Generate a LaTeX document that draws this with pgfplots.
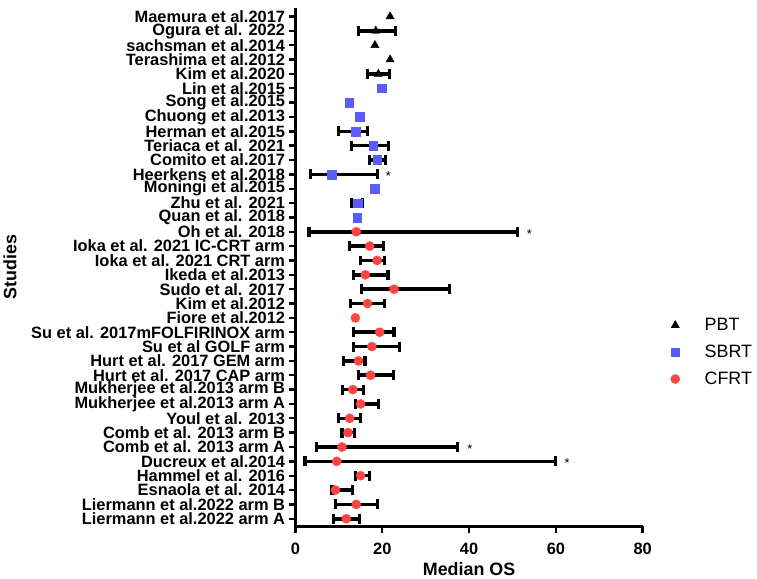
\documentclass[border=0pt]{standalone}
\usepackage{fontspec}
\setmainfont{Liberation Sans}
\usepackage{pgfplots}
\usepackage{pgfplotstable}
\pgfplotsset{compat=1.18}
\definecolor{sbrt}{RGB}{92,92,252}
\definecolor{cfrt}{RGB}{255,68,68}

% rows: y=36 is the top study, y=1 the bottom one
\pgfplotstableread{
y  os   lo   hi
35 18.5 14.6 23.0
32 19.1 16.5 21.7
28 13.8 10.0 16.6
27 17.9 12.9 21.4
26 18.8 17.1 20.8
25 8.4  3.5  18.9
23 14.3 12.9 15.5
21 14.0 3.1  51.2
20 17.1 12.5 20.3
19 18.8 15.0 20.6
18 16.1 13.3 21.3
17 22.7 15.2 35.4
16 16.6 12.7 20.6
14 19.4 13.3 22.7
13 17.6 13.3 23.9
12 14.5 11.0 16.0
11 17.3 14.5 22.6
10 13.2 10.9 15.7
9  15.0 13.8 19.1
8  12.5 10.0 15.0
7  12.1 10.7 13.6
6  10.7 4.9  37.4
5  9.5  2.2  60.0
4  15.0 13.8 17.1
3  9.2  8.4  13.1
2  14.0 9.2  18.9
1  11.7 8.8  14.7
}\bars

\pgfplotstableread{
y  os
36 21.8
35 18.5
34 18.3
33 21.8
32 19.1
}\pbt

\pgfplotstableread{
y  os
31 19.8
30 12.4
29 14.8
28 13.8
27 17.9
26 18.8
25 8.4
24 18.3
23 14.3
22 14.2
}\sbrt

\pgfplotstableread{
y  os
21 14.0
20 17.1
19 18.8
18 16.1
17 22.7
16 16.6
15 13.8
14 19.4
13 17.6
12 14.5
11 17.3
10 13.2
9  15.0
8  12.5
7  12.1
6  10.7
5  9.5
4  15.0
3  9.2
2  14.0
1  11.7
}\cfrt

\begin{document}
\begin{tikzpicture}
\begin{axis}[
    width=349.5pt, height=522pt, scale only axis,
    xmin=0, xmax=80, ymin=0.46, ymax=36.6,
    axis x line*=bottom, axis y line*=left,
    axis line style={line width=2.8pt, -},
    xtick={0,20,...,80},
    ytick={1,...,36},
    yticklabels={Liermann et al.2022 arm A, Liermann et al.2022 arm B, Esnaola et al. 2014,
      Hammel et al. 2016, Ducreux et al.2014, Comb et al. 2013 arm A, Comb et al. 2013 arm B,
      Youl et al. 2013, Mukherjee et al.2013 arm A, Mukherjee et al.2013 arm B,
      Hurt et al. 2017 CAP arm, Hurt et al. 2017 GEM arm, Su et al GOLF arm\ ,
      Su et al. 2017mFOLFIRINOX arm\ , Fiore et al.2012, Kim et al.2012, Sudo et al. 2017,
      Ikeda et al.2013, Ioka et al. 2021 CRT arm, Ioka et al. 2021 IC-CRT arm\ , Oh et al. 2018,
      Quan et al. 2018, Zhu et al. 2021, Moningi et al.2015, Heerkens et al.2018,
      Comito et al.2017, Teriaca et al. 2021, Herman et al.2015, Chuong et al.2013,
      Song et al.2015, Lin et al.2015, Kim et al.2020, Terashima et al.2012,
      sachsman et al.2014, Ogura et al. 2022, Maemura et al.2017},
    tick align=outside, major tick length=7pt,
    tick style={line width=2.4pt, black},
    /pgf/number format/assume math mode=true,
    ticklabel style={font=\fontsize{16.5}{16.5}\selectfont\bfseries},
    xticklabel style={yshift=-6pt},
    xlabel={Median OS}, ylabel={Studies},
    label style={font=\fontsize{18}{18}\selectfont\bfseries},
    xlabel style={yshift=-1pt},
    ylabel style={yshift=8pt},
    legend cell align=left,
    legend image code/.code={\draw[#1] plot coordinates {(0pt,0pt)};},
    legend style={draw=none, fill=none, at={(1,0.336)}, anchor=west, xshift=25pt,
      font=\fontsize{18}{18}\selectfont, row sep=9pt,
      /tikz/every odd column/.append style={column sep=23pt}},
    clip=false,
]
\addplot[black, line width=3.6pt, only marks, mark=*, mark size=0pt, forget plot,
    error bars/.cd, x dir=both, x explicit,
    error bar style={line width=3.6pt, black},
    error mark options={line width=3.2pt, black, mark size=5pt, rotate=90}]
  table[x=os, y=y, x error plus expr=\thisrow{hi}-\thisrow{os},
        x error minus expr=\thisrow{os}-\thisrow{lo}] {\bars};
\addplot[only marks, mark=triangle*, mark size=4.8pt, black] table[x=os, y=y] {\pbt};
\addplot[only marks, mark=square*, mark size=4.4pt, sbrt, draw=sbrt] table[x=os, y=y] {\sbrt};
\addplot[only marks, mark=*, mark size=4.6pt, cfrt, draw=cfrt] table[x=os, y=y] {\cfrt};
\legend{PBT, SBRT, CFRT}
\node[font=\fontsize{13}{13}\selectfont, yshift=-2pt] at (axis cs:21.4,25) {*};
\node[font=\fontsize{13}{13}\selectfont, yshift=-2pt] at (axis cs:53.9,21) {*};
\node[font=\fontsize{13}{13}\selectfont, yshift=-2pt] at (axis cs:40.2,6) {*};
\node[font=\fontsize{13}{13}\selectfont, yshift=-2pt] at (axis cs:62.6,5) {*};
\end{axis}
% keep the blank strip above the plot that the reference has
\path ([yshift=8pt]current axis.north) -- ++(0.1pt,0);
\end{tikzpicture}
\end{document}
